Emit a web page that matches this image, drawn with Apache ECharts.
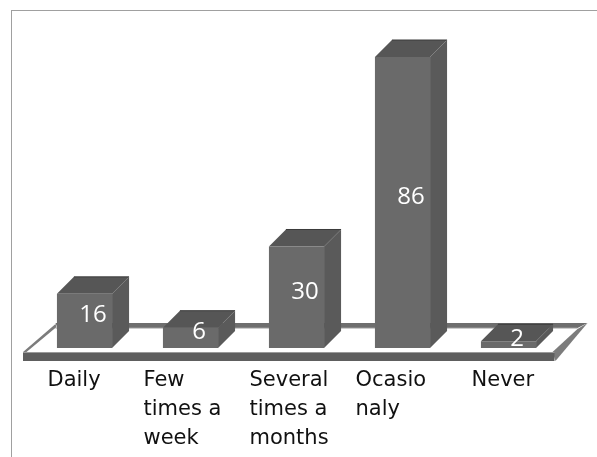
<!DOCTYPE html>
<html>
<head>
<meta charset="utf-8">
<style>html,body{margin:0;padding:0;background:#fff}#chart{width:597px;height:457px}</style>
<script src="https://cdn.jsdelivr.net/npm/echarts@6/dist/echarts.min.js"></script>
</head>
<body>
<div id="chart"></div>
<script>
const categories = ['Daily', 'Few\ntimes a\nweek', 'Several\ntimes a\nmonths', 'Ocasio\nnaly', 'Never'];
const values = [16, 6, 30, 86, 2];

const DEPTH_X = 17, DEPTH_Y = 17;
const FRONT = '#6a6a6a', TOP = '#565656', SIDE = '#5a5a5a', RIDGE = '#3a3a3a', RAIL = '#5e5e5e', BACK_RAIL = '#6e6e6e', RIM = '#7c7c7c', LIP = '#9a9a9a';
const VALUE_FONT = '"Open Sans", sans-serif';
const LABEL_FONT = '"DejaVu Sans", sans-serif';

// Box-shaped column: front face, top face and right face, value centred on the box
function renderBox(params, api) {
  const base = api.coord([api.value(0), 0]);
  const tip = api.coord([api.value(0), api.value(1)]);
  const w = api.size([1, 0])[0] * 0.52;
  const x0 = base[0] - w / 2, x1 = x0 + w, yb = base[1], yt = tip[1];
  const poly = (points, fill) => ({ type: 'polygon', shape: { points }, style: { fill } });
  return {
    type: 'group',
    children: [
      poly([[x1, yt], [x1 + DEPTH_X, yt - DEPTH_Y], [x1 + DEPTH_X, yb - DEPTH_Y], [x1, yb]], SIDE),
      poly([[x0, yt], [x0 + DEPTH_X, yt - DEPTH_Y], [x1 + DEPTH_X, yt - DEPTH_Y], [x1, yt]], TOP),
      { type: 'line', shape: { x1: x0 + DEPTH_X, y1: yt - DEPTH_Y, x2: x1 + DEPTH_X, y2: yt - DEPTH_Y }, style: { stroke: RIDGE, lineWidth: 1 } },
      { type: 'rect', shape: { x: x0, y: yt, width: w, height: yb - yt }, style: { fill: FRONT } },
      { type: 'text', style: {
          text: String(api.value(1)),
          x: base[0] + DEPTH_X / 2,
          y: (yb + yt - DEPTH_Y) / 2 + 3,
          fill: '#fff', fontSize: 24, fontFamily: VALUE_FONT, align: 'center', verticalAlign: 'middle'
      } }
    ]
  };
}

// Raised frame lying under the columns, sized from the plot area
function renderFloor(params, api) {
  const c = params.coordSys;
  const yb = c.y + c.height, xl = c.x, xr = c.x + c.width;
  const poly = (points, fill) => ({ type: 'polygon', shape: { points }, style: { fill } });
  return {
    type: 'group',
    children: [
      poly([[xl + 24, yb - 25], [xr + 26, yb - 25], [xr + 16, yb - 20], [xl + 26, yb - 20]], BACK_RAIL),
      { type: 'line', shape: { x1: xl + 24, y1: yb - 20, x2: xr + 16, y2: yb - 20 }, style: { stroke: LIP, lineWidth: 1 } },
      poly([[xl + 24, yb - 24], [xl - 8.5, yb + 4], [xl - 8.5, yb + 13], [xl - 5, yb + 4], [xl + 25, yb - 21]], RIM),
      poly([[xr + 26, yb - 25], [xr - 6, yb + 13], [xr - 9, yb + 4], [xr + 16, yb - 19]], RIM),
      poly([[xl - 8.5, yb + 4.5], [xr - 7, yb + 4.5], [xr - 7, yb + 13], [xl - 8.5, yb + 13]], RAIL),
      { type: 'line', shape: { x1: xl - 8.5, y1: yb + 4.5, x2: xr - 7, y2: yb + 4.5 }, style: { stroke: LIP, lineWidth: 1 } }
    ]
  };
}

// Outer frame: only the top and left edges fall inside the window
const frame = [
  { type: 'line', shape: { x1: 11, y1: 10.5, x2: 597, y2: 10.5 }, style: { stroke: '#a0a0a0', lineWidth: 1 } },
  { type: 'line', shape: { x1: 11.5, y1: 10.5, x2: 11.5, y2: 457 }, style: { stroke: '#a0a0a0', lineWidth: 1 } }
];

const labelStyle = { align: 'left', fontSize: 21, fontFamily: LABEL_FONT, lineHeight: 29, color: '#111' };

const chart = echarts.init(document.getElementById('chart'), null, { renderer: 'canvas' });
chart.setOption({
  animation: false,
  backgroundColor: '#fff',
  graphic: { elements: frame },
  grid: { left: 31.5, width: 530, top: 57, height: 291 },
  xAxis: {
    type: 'category',
    data: categories,
    axisLine: { show: false },
    axisTick: { show: false },
    axisLabel: {
      interval: 0,
      margin: 18,
      hideOverlap: false,
      formatter: (text) => {
        const tag = text.includes('\n') ? 'wide' : 'narrow';
        return text.split('\n').map((line) => `{${tag}|${line}}`).join('\n');
      },
      rich: {
        wide: { width: 94, ...labelStyle },
        narrow: { width: 74, ...labelStyle }
      }
    }
  },
  yAxis: { type: 'value', min: 0, max: 86, show: false },
  series: [
    { type: 'custom', z: 1, silent: true, renderItem: renderFloor, data: [[0, 0]] },
    { type: 'custom', z: 2, renderItem: renderBox, encode: { x: 0, y: 1 }, data: values.map((v, i) => [i, v]) }
  ]
});
</script>
</body>
</html>
